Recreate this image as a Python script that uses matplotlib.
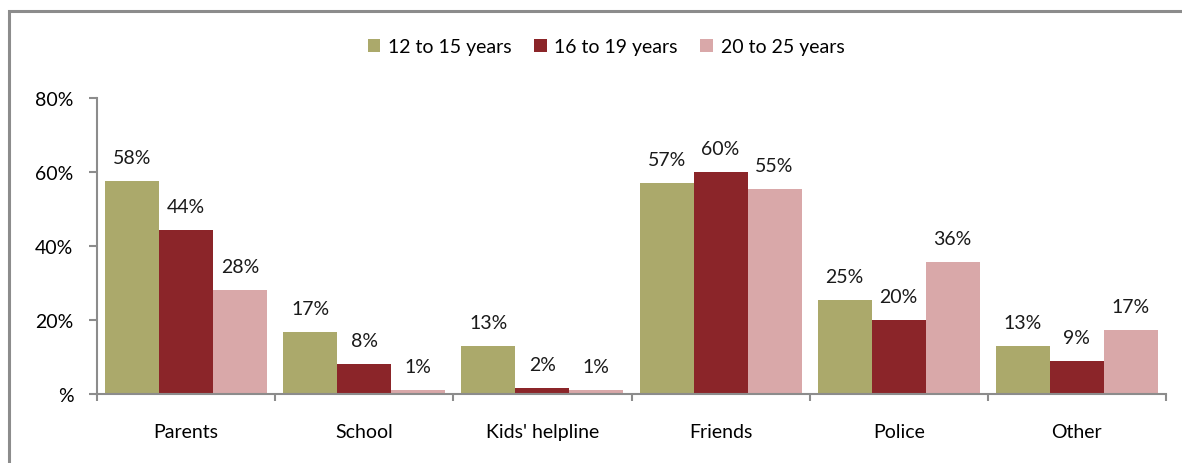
import matplotlib.pyplot as plt
import numpy as np
from matplotlib.lines import Line2D
from matplotlib.patches import Patch

categories = ["Parents", "School", "Kids' helpline", "Friends", "Police", "Other"]
series_names = ["12 to 15 years", "16 to 19 years", "20 to 25 years"]
age_12_15 = [57.5, 16.8, 13.0, 57.0, 25.4, 13.0]
age_16_19 = [44.3, 8.1, 1.6, 60.0, 20.0, 8.9]
age_20_25 = [28.1, 1.1, 1.0, 55.4, 35.6, 17.3]
yticks = [0, 20, 40, 60, 80]
ytick_labels = ["%", "20%", "40%", "60%", "80%"]

colors = ["#ABA96B", "#8B2529", "#D9A8A9"]
grey = "#8C8C8C"

plt.rcParams['font.family'] = ['Lato', 'DejaVu Sans']
fs = 14

fig = plt.figure(figsize=(11.82, 4.64), dpi=100)
W, H = 1182, 464
ax = fig.add_axes([97 / W, 1 - 395 / H, (1166 - 97) / W, (395 - 99) / H])

# outer frame: only left and top edges are visible in the picture
fig.add_artist(Line2D([9 / W, 9 / W, 1.0], [0.0, 1 - 12 / H, 1 - 12 / H],
                      transform=fig.transFigure, color=grey, linewidth=2.2,
                      solid_joinstyle="miter"))

x = np.arange(len(categories))
bw = 0.303
all_series = [age_12_15, age_16_19, age_20_25]
for i, vals in enumerate(all_series):
    pos = x + (i - 1) * bw
    ax.bar(pos, vals, width=bw, color=colors[i], label=series_names[i], zorder=2)
    for px, v in zip(pos, vals):
        ax.annotate(f"{v:.0f}%", (px, v), xytext=(0, 13), textcoords="offset points",
                    ha="center", va="baseline", fontsize=fs, color="#1a1a1a")

ax.set_xlim(-0.5, len(categories) - 0.5)
ax.set_ylim(0, 80)
ax.set_yticks(yticks)
ax.set_yticklabels(ytick_labels, fontsize=fs)

ax.set_xticks(np.arange(-0.5, len(categories), 1.0))
ax.set_xticklabels([])
ax.set_xticks(x, minor=True)
ax.set_xticklabels(categories, minor=True, fontsize=fs)
ax.tick_params(axis="x", which="major", length=5, width=1.5, color=grey, direction="out")
ax.tick_params(axis="x", which="minor", length=0, pad=21)
ax.tick_params(axis="y", length=6, width=1.5, color=grey, pad=11)

for s in ["top", "right"]:
    ax.spines[s].set_visible(False)
for s in ["left", "bottom"]:
    ax.spines[s].set_color(grey)
    ax.spines[s].set_linewidth(1.5)

handles = [Patch(facecolor=c, edgecolor="none") for c in colors]
fig.legend(handles, series_names, loc="center", bbox_to_anchor=(606 / W, 1 - 48 / H),
           ncol=3, frameon=False, fontsize=fs, handlelength=0.65, handleheight=0.65,
           handletextpad=0.4, columnspacing=1.15)

fig.savefig("out.png", dpi=100)
